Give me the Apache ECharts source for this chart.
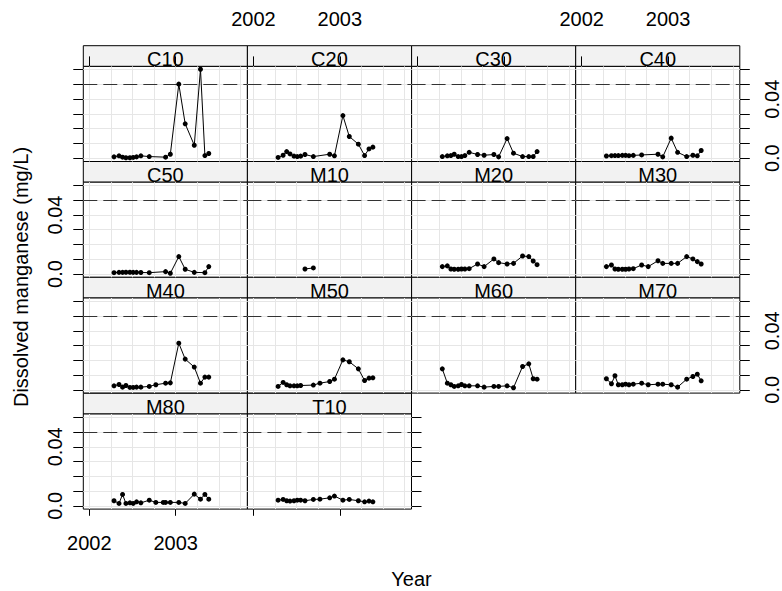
<!DOCTYPE html>
<html><head><meta charset="utf-8">
<script src="https://cdn.jsdelivr.net/npm/echarts@6/dist/echarts.min.js"></script>
<style>html,body{margin:0;padding:0;background:#fff}#c{width:782px;height:591px}</style>
</head><body><div id="c"></div>
<script>
// ---- data ----
const sites = ["C10","C20","C30","C40","C50","M10","M20","M30","M40","M50","M60","M70","M80","T10"];
const dates = [2002.286, 2002.344, 2002.385, 2002.424, 2002.47, 2002.508, 2002.547, 2002.597, 2002.694, 2002.77, 2002.856, 2002.883, 2002.938, 2003.036, 2003.11, 2003.215, 2003.287, 2003.338, 2003.383];
const n = null;
const C10 = [0.0009,0.0016,0.0007,0.0003,0.0003,0.0005,0.0009,0.0016,0.0011,n,n,0.0007,0.0027,0.0502,0.0233,0.0088,0.0603,0.0018,0.0032];
const C20 = [0.0005,0.002,0.0045,0.0029,0.0014,0.0011,0.0014,0.0025,0.0011,n,n,0.0027,0.0016,0.0289,0.0147,0.0095,0.0018,0.0063,0.0075];
const C30 = [0.0011,0.0016,0.0018,0.0027,0.0011,0.0011,0.0018,0.004,0.0025,0.002,n,0.0025,0.0009,0.0133,0.0034,0.0011,0.0011,0.0011,0.0045];
const C40 = [0.0015,0.0017,0.0018,0.0018,0.0019,0.0019,0.0017,0.0019,0.0022,n,n,0.0027,0.0009,0.0136,0.004,0.0011,0.002,0.0016,0.0052];
const C50 = [0.0009,0.0011,0.0011,0.0012,0.0012,0.0011,0.0011,0.001,0.0009,n,n,0.0016,0.0005,0.0118,0.0032,0.0011,n,0.0009,0.005];
const M10 = [n,n,n,n,n,n,n,0.0034,0.0041,n,n,n,n,n,n,n,n,n,n];
const M20 = [0.005,0.0055,0.0034,0.0032,0.0032,0.0034,0.0034,0.0036,0.0068,0.005,n,0.0102,0.0077,0.0068,0.0072,0.0122,0.0118,0.0088,0.0063];
const M30 = [0.005,0.0061,0.0034,0.0032,0.0032,0.0032,0.0034,0.0036,0.0061,0.005,n,0.009,0.0072,0.0072,0.0072,0.0118,0.0102,0.0084,0.0068];
const M40 = [0.0027,0.0036,0.0018,0.0029,0.0016,0.0016,0.0018,0.0018,0.0023,0.0034,n,0.0045,0.0047,0.0316,0.0208,0.0154,0.0045,0.0086,0.0086];
const M50 = [0.0023,0.005,0.0034,0.0027,0.0027,0.0027,0.0029,n,0.0032,0.0045,n,0.0056,0.0072,0.0203,0.019,0.0142,0.0063,0.0079,0.0081];
const M60 = [0.0142,0.0045,0.0034,0.0023,0.0027,0.0036,0.0027,0.0027,0.0027,0.0018,n,0.0023,0.0023,0.0027,0.0014,0.0158,0.0176,0.0075,0.0072];
const M70 = [0.0075,0.0041,0.0095,0.0034,0.0034,0.0038,0.0034,0.0038,0.0045,0.0034,n,0.0038,0.0038,0.0034,0.0018,0.0072,0.009,0.0106,0.0061];
const M80 = [0.0034,0.0016,0.0077,0.0016,0.002,0.0016,0.0027,0.002,0.0038,0.0023,0.0023,0.0023,0.0023,0.0023,0.0016,0.0079,0.0045,0.0077,0.0045];
const T10 = [0.0038,0.0043,0.0034,0.0032,0.0034,0.0038,0.0038,0.0034,0.0043,0.0045,n,0.0054,0.0066,0.0038,0.0043,0.0034,0.0027,0.0032,0.0027];
const siteValues = {C10,C20,C30,C40,C50,M10,M20,M30,M40,M50,M60,M70,M80,T10};

const xTicks = [2002, 2003];
const xTickLabels = ["2002", "2003"];
const xGridLines = [2002, 2002.25, 2002.5, 2002.75, 2003, 2003.25, 2003.5, 2003.75];
const yTicks = [0, 0.01, 0.02, 0.03, 0.04, 0.05, 0.06];
const yLabelValues = [0, 0.04];
const yTickLabels = ["0.0", "0.04"];
const refLevel = 0.05;
const xTitle = "Year";
const yTitle = "Dissolved manganese (mg/L)";

// ---- layout ----
const FONT = 'Liberation Sans, Arial, Helvetica, sans-serif';
const colLeft = [83.3, 247.4, 411.6, 575.7], colW = 164.1;
const stripTop = [45.7, 161.5, 277.3, 393.3], stripH = 20.7, panelH = 95.1;
const X_MIN = 2001.9306, X_MAX = 2003.830, Y_MIN = -0.00224, Y_MAX = 0.06223;
const RIGHT_LABEL_X = 772;

const xLab = v => { const k = xTicks.findIndex(t => Math.abs(t - v) < 1e-6); return k < 0 ? '' : xTickLabels[k]; };
const yLab = v => { const k = yLabelValues.findIndex(t => Math.abs(t - v) < 1e-9); return k < 0 ? '' : yTickLabels[k]; };
const labelStyle = {fontSize: 20, color: '#000', fontFamily: FONT};

const grids = [], xAxes = [], yAxes = [], series = [], graphics = [];
const rightLabelAxes = [];

sites.forEach((name, i) => {
  const r = Math.floor(i / 4), c = i % 4;
  const left = colLeft[c], sTop = stripTop[r], pTop = sTop + stripH;
  // strip
  const sg = grids.length;
  grids.push({left, top: sTop, width: colW, height: stripH, show: true, backgroundColor: '#f2f2f2',
    borderColor: '#000', borderWidth: 1, containLabel: false, outerBoundsMode: 'none'});
  xAxes.push({gridIndex: sg, type: 'value', position: 'top', min: X_MIN, max: X_MAX,
    axisLine: {show: false}, splitLine: {show: false},
    axisTick: {show: r === 0, inside: false, length: 10, customValues: xTicks, lineStyle: {color: '#000', width: 1}},
    axisLabel: Object.assign({show: r === 0 && (c === 1 || c === 3), customValues: xTicks, margin: 17, formatter: xLab}, labelStyle)});
  yAxes.push({gridIndex: sg, type: 'value', show: false, min: 0, max: 1});
  graphics.push({type: 'text', x: left + colW / 2, y: pTop - 7.2, z: 10, silent: true,
    style: {text: name, fontSize: 20, fontFamily: FONT, fill: '#000', align: 'center', verticalAlign: 'middle'}});

  // panel
  const pg = grids.length;
  grids.push({left, top: pTop, width: colW, height: panelH, show: true, backgroundColor: '#fff',
    borderColor: '#000', borderWidth: 1, containLabel: false, outerBoundsMode: 'none'});
  const xi = xAxes.length;
  xAxes.push({gridIndex: pg, type: 'value', position: 'bottom', min: X_MIN, max: X_MAX,
    axisLine: {show: false}, splitLine: {show: false},
    axisTick: {show: r === 3, inside: false, length: 10, customValues: xTicks, lineStyle: {color: '#000', width: 1}},
    axisLabel: Object.assign({show: r === 3 && c === 0, customValues: xTicks, margin: 24, formatter: xLab}, labelStyle)});
  const yl = yAxes.length;
  yAxes.push({gridIndex: pg, type: 'value', position: 'left', min: Y_MIN, max: Y_MAX,
    axisLine: {show: false}, splitLine: {show: false},
    axisTick: {show: c === 0, inside: false, length: 10, customValues: yTicks, lineStyle: {color: '#000', width: 1}},
    axisLabel: Object.assign({show: c === 0 && (r === 1 || r === 3), customValues: yLabelValues, rotate: 90, margin: 18, formatter: yLab}, labelStyle)});
  const rightSide = (c === 3 && r < 3) || (r === 3 && c === 1);
  const yr = yAxes.length;
  yAxes.push({gridIndex: pg, type: 'value', position: 'right', min: Y_MIN, max: Y_MAX,
    axisLine: {show: false}, splitLine: {show: false},
    axisTick: {show: rightSide, inside: false, length: 10, customValues: yTicks, lineStyle: {color: '#000', width: 1}},
    axisLabel: {show: false}});
  if (rightSide && (r === 0 || r === 2)) rightLabelAxes.push(yr);

  const vals = siteValues[name];
  const data = [];
  dates.forEach((d, k) => { if (vals[k] !== null) data.push([d, vals[k]]); });
  series.push({type: 'line', name, xAxisIndex: xi, yAxisIndex: yl, data, z: 3, silent: true,
    symbol: 'circle', symbolSize: 5, showAllSymbol: true, connectNulls: true,
    itemStyle: {color: '#000'}, lineStyle: {color: '#000', width: 1}, emphasis: {disabled: true},
    markLine: {silent: true, z: 1, symbol: 'none', animation: false, label: {show: false}, emphasis: {disabled: true},
      lineStyle: {color: '#e6e6e6', width: 1, type: 'solid'},
      data: [
        ...xGridLines.map(v => ({xAxis: v})),
        ...yTicks.map(v => ({yAxis: v})),
        {yAxis: refLevel, lineStyle: {color: '#333', width: 1, type: [14, 6]}}
      ]}});
});

graphics.push({type: 'text', x: 21, y: 277, rotation: Math.PI / 2, silent: true,
  style: {text: yTitle, fontSize: 20, fontFamily: FONT, fill: '#000', align: 'center', verticalAlign: 'middle'}});
graphics.push({type: 'text', x: 411.5, y: 578.5, silent: true,
  style: {text: xTitle, fontSize: 20, fontFamily: FONT, fill: '#000', align: 'center', verticalAlign: 'middle'}});

const chart = echarts.init(document.getElementById('c'), null, {renderer: 'svg', width: 782, height: 591});
chart.setOption({
  animation: false,
  backgroundColor: '#fff',
  grid: grids, xAxis: xAxes, yAxis: yAxes, series, graphic: graphics
});

// right-side tick labels, placed through the axis scale
const extra = [];
rightLabelAxes.forEach(ai => {
  yLabelValues.forEach((v, k) => {
    const py = chart.convertToPixel({yAxisIndex: ai}, v);
    extra.push({type: 'text', x: RIGHT_LABEL_X, y: py, rotation: Math.PI / 2, silent: true,
      style: {text: yTickLabels[k], fontSize: 20, fontFamily: FONT, fill: '#000', align: 'center', verticalAlign: 'middle'}});
  });
});
chart.setOption({graphic: graphics.concat(extra)});
</script>
</body></html>
